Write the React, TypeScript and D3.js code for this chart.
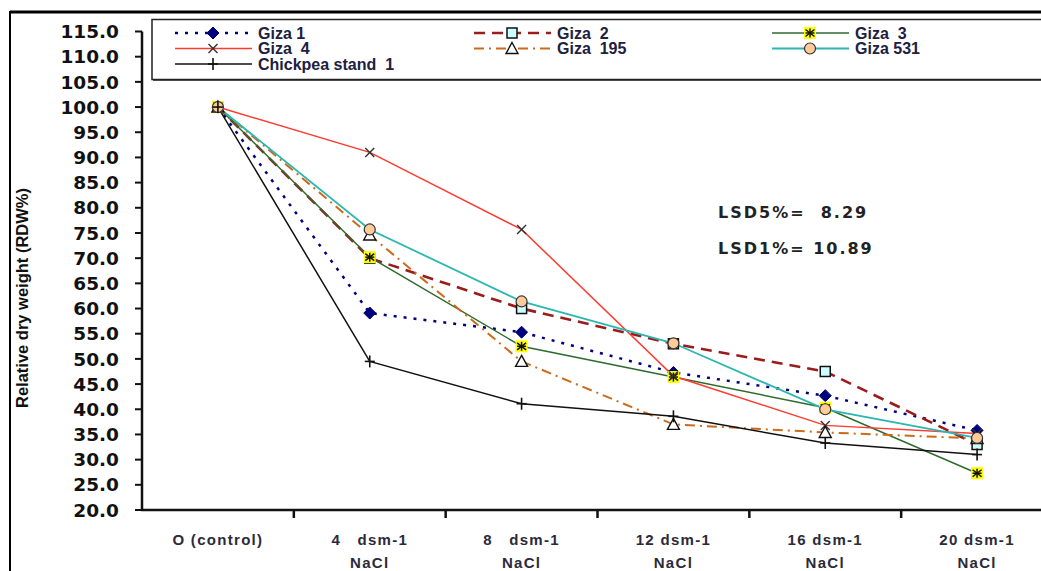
import * as d3 from "d3";

const categories = ["c0", "c4", "c8", "c12", "c16", "c20"];
const xLabelTop = ["O (control)", "4   dsm-1", "8   dsm-1", "12 dsm-1", "16 dsm-1", "20 dsm-1"];
const xLabelBottom = ["", "NaCl", "NaCl", "NaCl", "NaCl", "NaCl"];
const yTicks = [20, 25, 30, 35, 40, 45, 50, 55, 60, 65, 70, 75, 80, 85, 90, 95, 100, 105, 110, 115];

const giza1 = [100, 59.1, 55.3, 47.3, 42.7, 35.8];
const giza2 = [100, 70.0, 60.0, 53.0, 47.5, 33.0];
const giza3 = [100, 70.2, 52.5, 46.4, 40.3, 27.3];
const giza4 = [100, 91.0, 75.7, 46.6, 36.8, 35.2];
const giza195 = [100, 74.6, 49.5, 37.0, 35.4, 34.2];
const giza531 = [100, 75.7, 61.4, 53.1, 40.0, 34.3];
const chickpea = [100, 49.5, 41.1, 38.6, 33.3, 31.0];

const seriesNames = ["Giza 1", "Giza  2", "Giza  3", "Giza  4", "Giza  195", "Giza 531", "Chickpea stand  1"];
const lsdLabels = ["LSD5%=  8.29", "LSD1%= 10.89"];

type Style = { color: string; width: number; dash?: string; marker: string };

const styles: Style[] = [
  { color: "#000080", width: 2.5, dash: "3,7", marker: "diamond" },
  { color: "#9b1c1c", width: 2.6, dash: "11,7", marker: "square" },
  { color: "#2e6b2e", width: 1.5, marker: "asterisk" },
  { color: "#ff3b2f", width: 1.5, marker: "cross" },
  { color: "#cc6a1a", width: 2, dash: "10,5,2,5", marker: "triangle" },
  { color: "#2ab7b0", width: 1.8, marker: "circle" },
  { color: "#111111", width: 1.5, marker: "plus" },
];

const allSeries = [giza1, giza2, giza3, giza4, giza195, giza531, chickpea];

function Marker({ kind, cx, cy }: { kind: string; cx: number; cy: number }) {
  switch (kind) {
    case "diamond":
      return <path d={`M${cx},${cy - 6}L${cx + 6},${cy}L${cx},${cy + 6}L${cx - 6},${cy}Z`} fill="#000080" stroke="#000060" strokeWidth={1} />;
    case "square":
      return <rect x={cx - 5} y={cy - 5} width={10} height={10} fill="#ccffff" stroke="#111" strokeWidth={1.5} />;
    case "asterisk":
      return (
        <g>
          <rect x={cx - 6} y={cy - 6} width={12} height={12} fill="#ffff00" />
          <g stroke="#111" strokeWidth={1.5}>
            <line x1={cx} y1={cy - 4.5} x2={cx} y2={cy + 4.5} />
            <line x1={cx - 4.5} y1={cy - 3.5} x2={cx + 4.5} y2={cy + 3.5} />
            <line x1={cx - 4.5} y1={cy + 3.5} x2={cx + 4.5} y2={cy - 3.5} />
            <line x1={cx - 4.5} y1={cy} x2={cx + 4.5} y2={cy} />
          </g>
        </g>
      );
    case "cross":
      return (
        <g stroke="#333" strokeWidth={1.4}>
          <line x1={cx - 4.5} y1={cy - 4.5} x2={cx + 4.5} y2={cy + 4.5} />
          <line x1={cx - 4.5} y1={cy + 4.5} x2={cx + 4.5} y2={cy - 4.5} />
        </g>
      );
    case "triangle":
      return <path d={`M${cx},${cy - 6}L${cx + 6},${cy + 5}L${cx - 6},${cy + 5}Z`} fill="#fff" stroke="#111" strokeWidth={1.4} />;
    case "circle":
      return <circle cx={cx} cy={cy} r={5.5} fill="#ffcc99" stroke="#333" strokeWidth={1.2} />;
    case "plus":
      return (
        <g stroke="#111" strokeWidth={1.6}>
          <line x1={cx} y1={cy - 6} x2={cx} y2={cy + 6} />
          <line x1={cx - 5} y1={cy} x2={cx + 5} y2={cy} />
        </g>
      );
    default:
      return null;
  }
}

export default function App() {
  const width = 1041;
  const height = 571;
  const axisLeft = 142;
  const axisBottom = 510;

  const x = d3.scaleBand(categories, [axisLeft, 1053]);
  const y = d3.scaleLinear([20, 115], [axisBottom, 31.5]);
  const cx = (i: number) => (x(categories[i]) as number) + x.bandwidth() / 2;
  const line = d3.line<number>((d, i) => cx(i), (d) => y(d));

  // legend layout: three columns, rows fill left to right
  const legendCols = [175, 474, 772];
  const legendRows = [33, 48.5, 64];

  return (
    <svg width={width} height={height} style={{ position: "absolute", left: 0, top: 0, background: "#fff" }}>
      <rect width={width} height={height} fill="#fff" />
      {/* outer frame */}
      <line x1={10} y1={12} x2={width} y2={12} stroke="#000" strokeWidth={3} />
      <line x1={10} y1={11} x2={10} y2={height} stroke="#000" strokeWidth={2} />

      {/* y axis */}
      <g fontFamily="DejaVu Sans, sans-serif" fontWeight="bold" fontSize={18.5} fill="#111">
        {yTicks.map((t) => (
          <g key={t}>
            <line x1={axisLeft - 7} x2={axisLeft} y1={y(t)} y2={y(t)} stroke="#111" strokeWidth={2} />
            <text x={119} y={y(t)} dy="0.36em" textAnchor="end">{t.toFixed(1)}</text>
          </g>
        ))}
      </g>
      <line x1={axisLeft} x2={axisLeft} y1={y(115)} y2={axisBottom + 1} stroke="#111" strokeWidth={2.5} />
      <text transform={`translate(28,298) rotate(-90)`} textAnchor="middle" fontFamily="Liberation Sans, Arial, sans-serif" fontWeight="bold" fontSize={16.5} fill="#111">
        Relative dry weight (RDW%)
      </text>

      {/* x axis */}
      <line x1={axisLeft - 1} x2={width} y1={axisBottom} y2={axisBottom} stroke="#111" strokeWidth={2.5} />
      {categories.slice(1).map((c) => (
        <line key={c} x1={x(c)} x2={x(c)} y1={axisBottom} y2={axisBottom + 8} stroke="#111" strokeWidth={2.5} />
      ))}
      <g fontFamily="Liberation Sans, Arial, sans-serif" fontSize={15} fontWeight="bold" fill="#2a2a3a" letterSpacing={1.3} textAnchor="middle" style={{ whiteSpace: "pre" }}>
        {categories.map((c, i) => (
          <g key={c}>
            <text x={cx(i)} y={545} xmlSpace="preserve">{xLabelTop[i]}</text>
            <text x={cx(i)} y={568}>{xLabelBottom[i]}</text>
          </g>
        ))}
      </g>

      {/* series lines */}
      {allSeries.map((s, k) => (
        <path key={k} d={line(s) ?? ""} fill="none" stroke={styles[k].color} strokeWidth={styles[k].width} strokeDasharray={styles[k].dash} />
      ))}
      {allSeries.map((s, k) => (
        <g key={k}>
          {s.map((v, i) => (
            <Marker key={i} kind={styles[k].marker} cx={cx(i)} cy={y(v)} />
          ))}
        </g>
      ))}

      {/* LSD notes */}
      <g fontFamily="DejaVu Sans, sans-serif" fontWeight="bold" fontSize={16} fill="#222" letterSpacing={2} style={{ whiteSpace: "pre" }}>
        <text x={718} y={218} xmlSpace="preserve">{lsdLabels[0]}</text>
        <text x={718} y={254} xmlSpace="preserve">{lsdLabels[1]}</text>
      </g>

      {/* legend */}
      <rect x={152} y={19.5} width={910} height={60} fill="#fff" stroke="#222" strokeWidth={1.5} />
      <line x1={153} x2={width} y1={80} y2={80} stroke="#222" strokeWidth={1.5} />
      {seriesNames.map((name, k) => {
        const lx = legendCols[k % 3];
        const ly = legendRows[Math.floor(k / 3)];
        return (
          <g key={name}>
            <line x1={lx} x2={lx + 77} y1={ly} y2={ly} stroke={styles[k].color} strokeWidth={styles[k].width} strokeDasharray={styles[k].dash} />
            <Marker kind={styles[k].marker} cx={lx + 38} cy={ly} />
            <text x={lx + 83} y={ly} dy="0.36em" fontFamily="Liberation Sans, Arial, sans-serif" fontWeight="bold" fontSize={16} fill="#202040" xmlSpace="preserve" style={{ whiteSpace: "pre" }}>
              {name}
            </text>
          </g>
        );
      })}
    </svg>
  );
}
